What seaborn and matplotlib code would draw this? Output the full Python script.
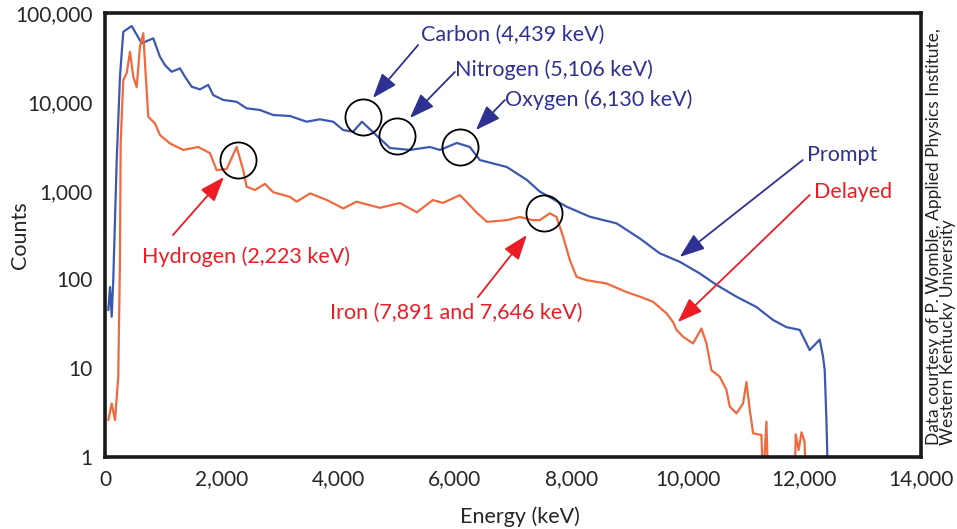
import numpy as np
import pandas as pd
import matplotlib
matplotlib.use('Agg')
import matplotlib.pyplot as plt
import seaborn as sns
from matplotlib.ticker import FuncFormatter

# spectrum (keV, counts)
prompt_kev = [57, 86, 115, 142, 201, 257, 314, 458, 629, 828, 943, 1029, 1144, 1286,
              1372, 1487, 1629, 1772, 1857, 2029, 2259, 2430, 2658, 2886, 3173, 3459,
              3687, 3915, 4087, 4258, 4408, 4596, 4888, 5231, 5574, 5745, 6037, 6260,
              6431, 6894, 7237, 7460, 7918, 8318, 8776, 9173, 9516, 9859, 10202, 10488,
              10831, 11174, 11459, 11690, 11919, 12090, 12262, 12319, 12348, 12377, 12405]
prompt_counts = [45, 82, 38, 98, 2200, 19200, 61500, 71400, 45600, 51900, 32200, 25900,
                 21800, 23800, 19200, 14800, 13800, 15500, 11900, 10500, 10000, 8450,
                 8090, 7100, 6920, 5970, 6350, 5970, 4810, 4600, 5970, 4570, 3020, 2870,
                 3100, 2870, 3440, 3100, 2210, 1845, 1320, 975, 660, 508, 428, 290, 197,
                 158, 117, 87, 64, 49, 35, 29, 27, 16, 21, 13.5, 9.5, 2.6, 0.5]

delayed_kev = [57, 115, 172, 228, 257, 269, 314, 372, 429, 485, 544, 600, 657, 686, 743,
               858, 943, 1115, 1343, 1601, 1801, 1915, 2087, 2259, 2372, 2430, 2573,
               2744, 2886, 3173, 3288, 3520, 3807, 4087, 4316, 4716, 5059, 5351, 5625,
               5797, 6089, 6380, 6551, 6894, 7117, 7340, 7460, 7632, 7747, 7860, 7975,
               8090, 8261, 8604, 8947, 9175, 9403, 9633, 9747, 9805, 9918, 10089, 10233,
               10319, 10405, 10548, 10662, 10719, 10834, 10947, 11005, 11062, 11119,
               11262, 11290, 11348, 11376, 11833, 11850, 11900, 11950, 12000, 12034, 12400]
delayed_counts = [2.6, 4, 2.6, 8, 165, 3450, 17600, 21000, 36600, 19200, 14600, 41800,
                  59200, 27400, 6800, 5700, 4230, 3400, 2870, 3100, 2640, 1700, 1750,
                  3100, 1700, 1105, 1016, 1190, 960, 850, 750, 930, 784, 630, 750, 640,
                  726, 570, 784, 726, 890, 565, 445, 465, 505, 465, 465, 555, 505, 303,
                  165, 107, 98, 90, 72, 64, 56, 41.5, 33, 27, 22.6, 19, 28, 19, 9.5, 8,
                  5.7, 3.7, 3.1, 4.0, 7.0, 3.4, 1.85, 1.77, 0.5, 2.5, 0.5, 0.5, 1.8, 1.2,
                  1.9, 1.5, 0.5, 0.5]

# peak labels: text, colour, text pos, arrow tail, arrow tip (keV, counts)
labels = ['Carbon (4,439 keV)', 'Nitrogen (5,106 keV)', 'Oxygen (6,130 keV)',
          'Hydrogen (2,223 keV)', 'Iron (7,891 and 7,646 keV)', 'Prompt', 'Delayed']
label_colors = ['#2e3192', '#2e3192', '#2e3192', '#ed1c24', '#ed1c24', '#2e3192', '#ed1c24']
text_xy = [(5419, 56500), (6003, 22800), (6860, 10480), (635, 179), (3859, 42),
           (12039, 2510), (12159, 964)]
tail_xy = [(5372, 43600), (6003, 21700), (6860, 10480), (1166, 316), (6397, 63),
           (11971, 2210), (12091, 892)]
tip_xy = [(4596, 11040), (5231, 6570), (6363, 4810), (2041, 1423), (7237, 316),
          (9861, 179), (9827, 33)]
circle_xy = [(4425, 6740), (5008, 4120), (6088, 3100), (2281, 2210), (7529, 560)]

sns.set_style('white')
plt.rcParams['font.family'] = ['Lato', 'DejaVu Sans']

fig = plt.figure(figsize=(9.57, 5.29), dpi=100)
ax = fig.add_axes([0.1097, 0.1361, 0.8527, 0.8393])

prompt_df = pd.DataFrame({'Energy': prompt_kev, 'Counts': prompt_counts})
delayed_df = pd.DataFrame({'Energy': delayed_kev, 'Counts': delayed_counts})
sns.lineplot(data=prompt_df, x='Energy', y='Counts', ax=ax, color='#3c58b0',
             lw=1.6, estimator=None, sort=False)
sns.lineplot(data=delayed_df, x='Energy', y='Counts', ax=ax, color='#f06a40',
             lw=1.6, estimator=None, sort=False)

ax.set_yscale('log')
ax.set_xlim(0, 14000)
ax.set_ylim(1, 100000)
ax.set_xticks(np.arange(0, 14001, 2000))
ax.set_yticks([1, 10, 100, 1000, 10000, 100000])
ax.minorticks_off()
ax.xaxis.set_major_formatter(FuncFormatter(lambda v, p: f'{int(v):,}'))
ax.yaxis.set_major_formatter(FuncFormatter(lambda v, p: f'{int(round(v)):,}'))
ax.tick_params(axis='both', direction='in', length=5, width=2, color='#222222',
               labelsize=15, pad=9)
for s in ax.spines.values():
    s.set_linewidth(2.6)
    s.set_color('#1a1a1a')

ax.set_xlabel('Energy (keV)', fontsize=15.5)
ax.xaxis.set_label_coords(0.509, -0.112)
ax.set_ylabel('Counts', fontsize=15.5, va='center')
ax.yaxis.set_label_coords(-0.104, 0.5)

for cx, cy in circle_xy:
    ax.plot(cx, cy, marker='o', ms=26, mfc='none', mec='black', mew=1.3)

for txt, col, tpos, tail, tip in zip(labels, label_colors, text_xy, tail_xy, tip_xy):
    ax.text(tpos[0], tpos[1], txt, color=col, fontsize=15.5, ha='left', va='center')
    ax.annotate('', xy=tip, xytext=tail,
                arrowprops=dict(arrowstyle='-|>,head_length=0.9,head_width=0.33',
                                color=col, lw=1.3, mutation_scale=17,
                                shrinkA=0, shrinkB=0))

fig.text(0.983, 0.159,
         'Data courtesy of P. Womble, Applied Physics Institute,\nWestern Kentucky University',
         rotation=90, ha='center', va='bottom', multialignment='left', fontsize=12.5,
         color='#222222', linespacing=0.85)

plt.savefig('out.png', dpi=100)
